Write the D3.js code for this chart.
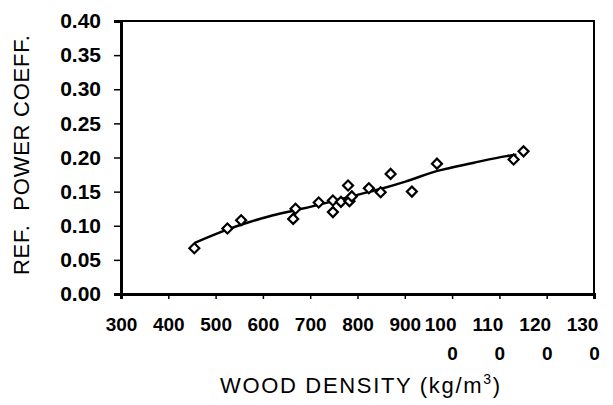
<!DOCTYPE html>
<html>
<head>
<meta charset="utf-8">
<script src="https://cdn.jsdelivr.net/npm/d3@7"></script>
<style>
  body { margin: 0; background: #fff; }
  svg { display: block; font-family: "Liberation Sans", Arial, sans-serif; }
</style>
</head>
<body>
<script>
// measured points (wood density kg/m3, ref. power coeff.)
const density = [455, 525, 554, 664, 669, 718, 748, 748, 765, 780, 783, 788, 824, 849, 870, 915, 968, 1130, 1151];
const powerCoeff = [0.067, 0.096, 0.108, 0.110, 0.125, 0.134, 0.120, 0.137, 0.135, 0.159, 0.136, 0.143, 0.155, 0.149, 0.176, 0.150, 0.191, 0.197, 0.209];

// fitted trend line
const trendX = [456, 523, 565, 614, 657, 720, 776, 826, 854, 903, 967, 1044, 1115, 1136];
const trendY = [0.075, 0.094, 0.104, 0.114, 0.121, 0.131, 0.141, 0.150, 0.155, 0.165, 0.180, 0.192, 0.202, 0.204];

const xTicks = [300, 400, 500, 600, 700, 800, 900, 1000, 1100, 1200, 1300];
const yTicks = [0, 0.05, 0.10, 0.15, 0.20, 0.25, 0.30, 0.35, 0.40];

const width = 613, height = 405;
const margin = {top: 21, right: 19, bottom: 111, left: 121};

const svg = d3.select("body").append("svg")
    .attr("width", width)
    .attr("height", height);

const x = d3.scaleLinear().domain([300, 1300]).range([margin.left, width - margin.right]);
const y = d3.scaleLinear().domain([0, 0.40]).range([height - margin.bottom, margin.top]);

// frame
svg.append("rect")
    .attr("x", x(300))
    .attr("y", y(0.40))
    .attr("width", x(1300) - x(300))
    .attr("height", y(0) - y(0.40))
    .attr("fill", "none")
    .attr("stroke", "#000")
    .attr("stroke-width", 2);

// y axis
const yAxis = svg.append("g")
    .attr("transform", `translate(${x(300)},0)`)
    .call(d3.axisLeft(y).tickValues(yTicks).tickSize(7).tickPadding(13).tickFormat(d3.format(".2f")));
yAxis.select(".domain").attr("stroke-width", 3);
yAxis.selectAll(".tick line").attr("stroke-width", 1.5);
yAxis.selectAll("text")
    .attr("font-size", 21)
    .attr("font-weight", "bold")
    .attr("fill", "#000");

// x axis
const xAxis = svg.append("g")
    .attr("transform", `translate(0,${y(0)})`)
    .call(d3.axisBottom(x).tickValues(xTicks).tickSize(5).tickPadding(0).tickFormat(d => d));
xAxis.select(".domain").attr("stroke-width", 3);
xAxis.selectAll(".tick line").attr("stroke-width", 1.5);
xAxis.selectAll(".tick text").each(function(d) {
    const t = d3.select(this);
    const s = String(d);
    t.text(null)
        .attr("font-size", 19)
        .attr("font-weight", "bold")
        .attr("fill", "#000")
        .attr("y", 0)
        .attr("dy", 0);
    if (s.length > 3) {
        // wrapped label: "100" on top, "0" below
        t.append("tspan").attr("x", -12).attr("y", 37).text(s.slice(0, 3));
        t.append("tspan").attr("x", 0).attr("y", 66).text(s.slice(3));
    } else {
        t.append("tspan").attr("x", 0).attr("y", 37).text(s);
    }
});

// trend line
const line = d3.line()
    .x(d => x(d[0]))
    .y(d => y(d[1]))
    .curve(d3.curveMonotoneX);

svg.append("path")
    .datum(trendX.map((v, i) => [v, trendY[i]]))
    .attr("d", line)
    .attr("fill", "none")
    .attr("stroke", "#000")
    .attr("stroke-width", 2.5);

// diamonds
const diamond = d3.symbol().type(d3.symbolSquare).size(50);
svg.append("g")
    .selectAll("path")
    .data(density.map((v, i) => [v, powerCoeff[i]]))
    .join("path")
    .attr("d", diamond)
    .attr("transform", d => `translate(${x(d[0])},${y(d[1])}) rotate(45)`)
    .attr("fill", "#fff")
    .attr("stroke", "#000")
    .attr("stroke-width", 2.2);

// axis titles
svg.append("text")
    .attr("x", 220)
    .attr("y", 393)
    .attr("font-size", 22)
    .attr("fill", "#000")
    .attr("textLength", 280)
    .html('WOOD DENSITY (kg/m<tspan dy="-9" font-size="14">3</tspan><tspan dy="9">)</tspan>');

svg.append("text")
    .attr("transform", "translate(29,155) rotate(-90)")
    .attr("text-anchor", "middle")
    .attr("font-size", 22)
    .attr("fill", "#000")
    .attr("textLength", 240)
    .attr("xml:space", "preserve")
    .text("REF.  POWER COEFF.");
</script>
</body>
</html>
